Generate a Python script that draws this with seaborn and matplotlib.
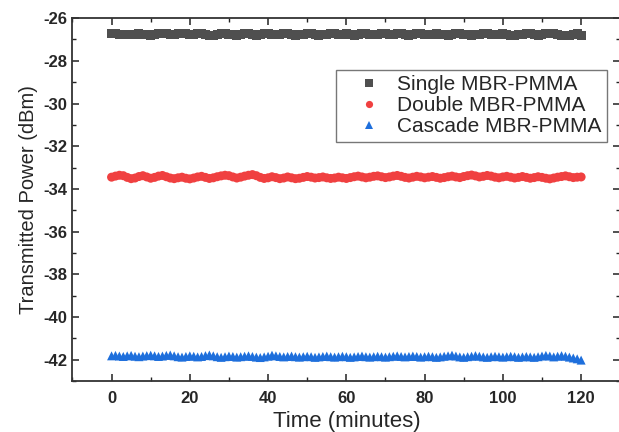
import numpy as np
import pandas as pd
import matplotlib
matplotlib.use('Agg')
import matplotlib.pyplot as plt
import seaborn as sns
from matplotlib.ticker import MultipleLocator

# Time axis: one reading per minute
time_min = list(range(0, 121))

single = [-26.72, -26.74, -26.75, -26.76, -26.78, -26.77, -26.76, -26.74, -26.75, -26.77,
          -26.79, -26.76, -26.73, -26.72, -26.74, -26.77, -26.75, -26.71, -26.70, -26.73,
          -26.76, -26.78, -26.74, -26.72, -26.75, -26.79, -26.82, -26.78, -26.74, -26.72,
          -26.75, -26.77, -26.80, -26.76, -26.73, -26.74, -26.78, -26.81, -26.77, -26.74,
          -26.72, -26.75, -26.78, -26.76, -26.74, -26.73, -26.76, -26.79, -26.77, -26.75,
          -26.73, -26.74, -26.77, -26.80, -26.78, -26.75, -26.72, -26.74, -26.76, -26.75,
          -26.73, -26.76, -26.79, -26.77, -26.74, -26.72, -26.75, -26.78, -26.76, -26.73,
          -26.74, -26.77, -26.75, -26.72, -26.74, -26.78, -26.80, -26.77, -26.74, -26.73,
          -26.76, -26.78, -26.75, -26.73, -26.75, -26.77, -26.79, -26.76, -26.74, -26.72,
          -26.75, -26.78, -26.81, -26.78, -26.75, -26.73, -26.74, -26.76, -26.78, -26.75,
          -26.73, -26.76, -26.79, -26.82, -26.78, -26.75, -26.72, -26.74, -26.77, -26.79,
          -26.76, -26.73, -26.70, -26.72, -26.76, -26.80, -26.83, -26.79, -26.76, -26.74,
          -26.82]

double = [-33.45, -33.40, -33.36, -33.38, -33.46, -33.52, -33.49, -33.42, -33.38, -33.44,
          -33.50, -33.46, -33.40, -33.37, -33.43, -33.49, -33.52, -33.48, -33.45, -33.50,
          -33.53, -33.49, -33.44, -33.41, -33.46, -33.51, -33.48, -33.43, -33.39, -33.36,
          -33.38, -33.44, -33.49, -33.45, -33.40, -33.36, -33.33, -33.38, -33.46, -33.51,
          -33.48, -33.43, -33.47, -33.52, -33.49, -33.44, -33.48, -33.52, -33.50, -33.46,
          -33.42, -33.45, -33.49, -33.47, -33.44, -33.48, -33.51, -33.49, -33.45, -33.48,
          -33.51, -33.47, -33.43, -33.40, -33.44, -33.48, -33.45, -33.41, -33.39, -33.43,
          -33.47, -33.44, -33.40, -33.37, -33.41, -33.46, -33.49, -33.45, -33.41, -33.44,
          -33.48, -33.45, -33.42, -33.46, -33.50, -33.47, -33.43, -33.40, -33.44, -33.47,
          -33.42, -33.38, -33.35, -33.39, -33.44, -33.41, -33.37, -33.40, -33.45, -33.48,
          -33.44, -33.41, -33.45, -33.49, -33.46, -33.42, -33.46, -33.50, -33.47, -33.43,
          -33.46, -33.50, -33.53, -33.49, -33.45, -33.42, -33.39, -33.43, -33.47, -33.45,
          -33.44]

cascade = [-41.82, -41.80, -41.83, -41.85, -41.82, -41.80, -41.84, -41.86, -41.83, -41.81,
           -41.79, -41.82, -41.85, -41.83, -41.80, -41.78, -41.82, -41.86, -41.88, -41.85,
           -41.82, -41.84, -41.87, -41.85, -41.81, -41.78, -41.82, -41.86, -41.89, -41.86,
           -41.83, -41.85, -41.88, -41.86, -41.84, -41.82, -41.85, -41.88, -41.90, -41.87,
           -41.84, -41.79, -41.82, -41.85, -41.87, -41.85, -41.83, -41.86, -41.88, -41.86,
           -41.84, -41.86, -41.89, -41.87, -41.85, -41.83, -41.86, -41.88, -41.86, -41.84,
           -41.86, -41.89, -41.87, -41.85, -41.83, -41.86, -41.88, -41.86, -41.84, -41.86,
           -41.88, -41.86, -41.84, -41.82, -41.85, -41.87, -41.85, -41.83, -41.85, -41.88,
           -41.86, -41.84, -41.86, -41.89, -41.87, -41.84, -41.82, -41.79, -41.83, -41.87,
           -41.89, -41.86, -41.84, -41.81, -41.84, -41.87, -41.89, -41.86, -41.84, -41.86,
           -41.88, -41.86, -41.84, -41.86, -41.89, -41.87, -41.85, -41.87, -41.89, -41.86,
           -41.83, -41.80, -41.83, -41.87, -41.84, -41.81, -41.84, -41.88, -41.92, -41.96,
           -42.02]

labels = ['Single MBR-PMMA', 'Double MBR-PMMA', 'Cascade MBR-PMMA']
colors = ['#4f4f4f', '#f04040', '#1e6fdc']

df = pd.DataFrame({
    'time': time_min * 3,
    'power': single + double + cascade,
    'series': [labels[0]] * 121 + [labels[1]] * 121 + [labels[2]] * 121,
})

sns.set_style('ticks')
plt.rcParams['font.family'] = ['Liberation Sans', 'DejaVu Sans']
plt.rcParams['axes.unicode_minus'] = False

fig = plt.figure(figsize=(6.19, 4.32), dpi=100)
ax = fig.add_axes([0.117, 0.118, 0.885, 0.84])

sns.scatterplot(data=df, x='time', y='power', hue='series', style='series',
                markers=['s', 'o', '^'], palette=colors, s=42, linewidth=0,
                ax=ax, legend=True)

ax.set_xlim(-10, 130)
ax.set_ylim(-43, -26)
ax.xaxis.set_major_locator(MultipleLocator(20))
ax.xaxis.set_minor_locator(MultipleLocator(10))
ax.yaxis.set_major_locator(MultipleLocator(2))
ax.yaxis.set_minor_locator(MultipleLocator(1))
ax.tick_params(which='both', direction='in', top=True, right=True, color='#222222')
ax.tick_params(which='major', length=5, width=1.1)
ax.tick_params(which='minor', length=3, width=1.0)
for lab in ax.get_xticklabels() + ax.get_yticklabels():
    lab.set_fontweight('bold')
    lab.set_fontsize(12)
ax.tick_params(axis='x', pad=7)
for sp in ax.spines.values():
    sp.set_linewidth(1.3)
    sp.set_color('#333333')

ax.set_xlabel('Time (minutes)', fontsize=16, labelpad=4)
ax.set_ylabel('Transmitted Power (dBm)', fontsize=14.5, labelpad=4)

leg = ax.legend(loc='upper right', bbox_to_anchor=(0.975, 0.857), fontsize=15,
                frameon=True, fancybox=False, edgecolor='#555555',
                handlelength=2.7, handletextpad=0.0, borderpad=0.25,
                labelspacing=0.1, markerscale=0.8, borderaxespad=0.0)
leg.get_frame().set_linewidth(1.0)

fig.savefig('out.png', dpi=100)
